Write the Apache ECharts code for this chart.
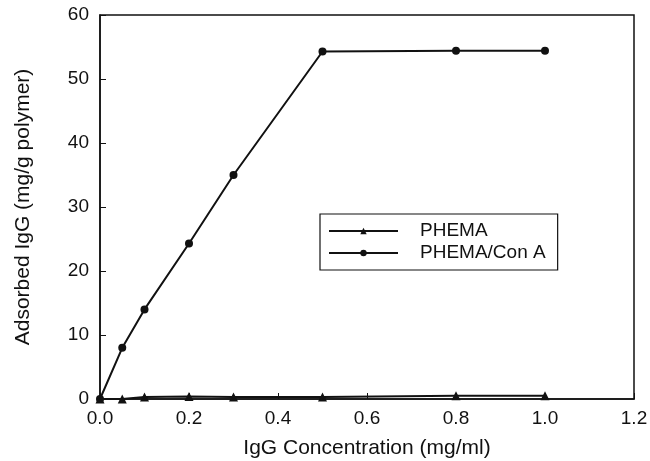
<!DOCTYPE html>
<html><head><meta charset="utf-8">
<script src="https://cdn.jsdelivr.net/npm/echarts@6/dist/echarts.min.js"></script>
<style>html,body{margin:0;padding:0;background:#fff}#c{width:650px;height:461px}</style>
</head><body><div id="c"></div>
<script>
const concentration = [0, 0.05, 0.1, 0.2, 0.3, 0.5, 0.8, 1.0];
const phema = [0, 0, 0.3, 0.4, 0.3, 0.3, 0.5, 0.5];
const phemaConA = [0, 8, 14, 24.3, 35, 54.3, 54.4, 54.4];
const seriesNames = ['PHEMA', 'PHEMA/Con A'];
const xTitle = 'IgG Concentration (mg/ml)';
const yTitle = 'Adsorbed IgG (mg/g polymer)';

const font = 'Liberation Sans, Arial, sans-serif';
const chart = echarts.init(document.getElementById('c'));
chart.setOption({
  animation: false,
  grid: {left: 100, right: 16, top: 15, bottom: 62, show: true, borderColor: '#111', borderWidth: 1.5,
         containLabel: false, outerBoundsMode: 'none'},
  legend: {
    left: 320, top: 214, orient: 'vertical',
    data: seriesNames,
    borderColor: '#111', borderWidth: 1.2, padding: [7, 12, 7, 8],
    itemWidth: 69, itemHeight: 8, itemGap: 2,
    textStyle: {fontFamily: font, fontSize: 19, lineHeight: 20, color: '#111', padding: [0, 0, 0, 17]}
  },
  xAxis: {
    type: 'value', min: 0, max: 1.2, interval: 0.2,
    name: xTitle, nameLocation: 'middle', nameGap: 39,
    nameTextStyle: {fontFamily: font, fontSize: 21, color: '#111'},
    axisLine: {lineStyle: {color: '#111', width: 1.5}},
    axisTick: {inside: true, length: 6, lineStyle: {color: '#111'}},
    axisLabel: {fontFamily: font, fontSize: 19, color: '#111', margin: 10, formatter: v => v.toFixed(1)},
    splitLine: {show: false}
  },
  yAxis: {
    type: 'value', min: 0, max: 60, interval: 10,
    name: yTitle, nameLocation: 'middle', nameGap: 66,
    nameTextStyle: {fontFamily: font, fontSize: 21, color: '#111'},
    axisLine: {lineStyle: {color: '#111', width: 1.5}},
    axisTick: {inside: true, length: 6, lineStyle: {color: '#111'}},
    axisLabel: {fontFamily: font, fontSize: 19, color: '#111', margin: 11},
    splitLine: {show: false}
  },
  series: [
    {name: seriesNames[0], type: 'line', data: concentration.map((x, i) => [x, phema[i]]),
     symbol: 'triangle', symbolSize: 9, showAllSymbol: true,
     lineStyle: {color: '#111', width: 2}, itemStyle: {color: '#111'}},
    {name: seriesNames[1], type: 'line', data: concentration.map((x, i) => [x, phemaConA[i]]),
     symbol: 'circle', symbolSize: 8, showAllSymbol: true,
     lineStyle: {color: '#111', width: 2}, itemStyle: {color: '#111'}}
  ]
});
</script></body></html>
